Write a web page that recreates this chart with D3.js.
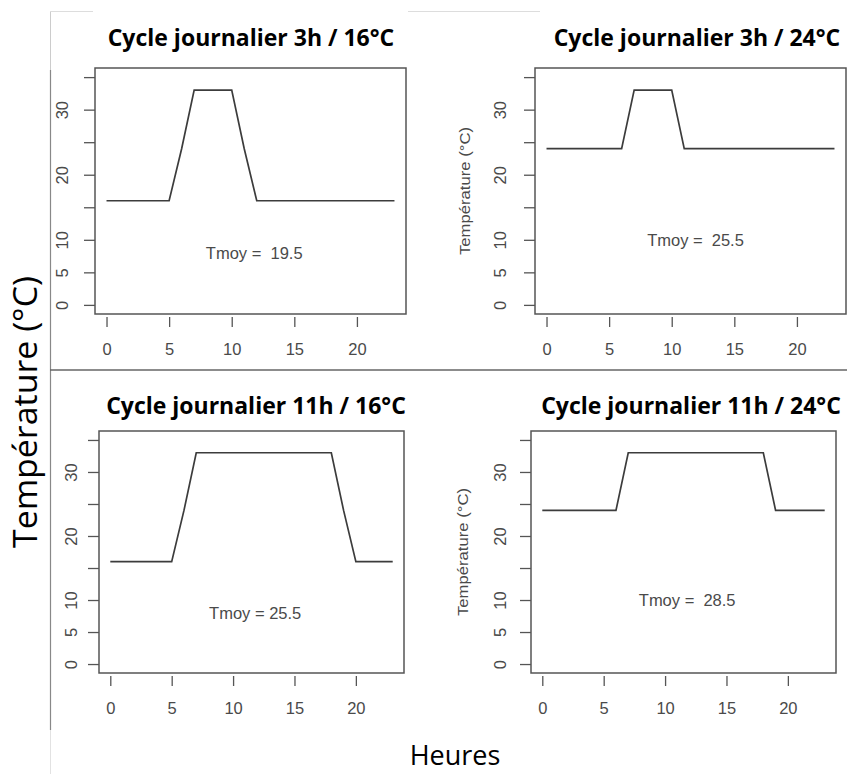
<!DOCTYPE html>
<html>
<head>
<meta charset="utf-8">
<script src="https://cdn.jsdelivr.net/npm/d3@7"></script>
<style>
  body { margin: 0; background: #fff; }
  .tick text { font-family: "Liberation Sans", Arial, sans-serif; font-size: 16.5px; fill: #4a4a4a; }
  .tick line { stroke: #555; stroke-width: 1.3; }
</style>
</head>
<body>
<svg id="chart" width="847" height="774"></svg>
<script>
// hourly temperature cycles (°C)
const hours = [0, 1, 2, 3, 4, 5, 6, 7, 8, 9, 10, 11, 12, 13, 14, 15, 16, 17, 18, 19, 20, 21, 22, 23];
const temp3h16 = [16, 16, 16, 16, 16, 16, 24, 33, 33, 33, 33, 24, 16, 16, 16, 16, 16, 16, 16, 16, 16, 16, 16, 16];
const temp3h24 = [24, 24, 24, 24, 24, 24, 24, 33, 33, 33, 33, 24, 24, 24, 24, 24, 24, 24, 24, 24, 24, 24, 24, 24];
const temp11h16 = [16, 16, 16, 16, 16, 16, 24, 33, 33, 33, 33, 33, 33, 33, 33, 33, 33, 33, 33, 24, 16, 16, 16, 16];
const temp11h24 = [24, 24, 24, 24, 24, 24, 24, 33, 33, 33, 33, 33, 33, 33, 33, 33, 33, 33, 33, 24, 24, 24, 24, 24];

const panelTitles = ["Cycle journalier 3h / 16°C", "Cycle journalier 3h / 24°C",
                     "Cycle journalier 11h / 16°C", "Cycle journalier 11h / 24°C"];
const tmoyLabels = ["Tmoy =  19.5", "Tmoy =  25.5", "Tmoy = 25.5", "Tmoy =  28.5"];
const tmoyAt = [[11.8, 8], [11.9, 10], [11.8, 8], [11.8, 10]];   // hour, °C
const xTickValues = [0, 5, 10, 15, 20];
const yTickValues = [0, 5, 10, 15, 20, 25, 30, 35];
const yTickLabels = ["0", "5", "10", "", "20", "", "30", ""];

// plot boxes, as laid out in the composed figure
const panels = [
    { left: 95,  right: 406, top: 68,  bottom: 314, titleX: 251, titleY: 46,  labelGap: 33, ylab: false },
    { left: 535, right: 846, top: 68,  bottom: 314, titleX: 697, titleY: 46,  labelGap: 35, ylab: true, ylabX: 465 },
    { left: 99,  right: 404, top: 431, bottom: 673, titleX: 256, titleY: 414, labelGap: 28, ylab: false },
    { left: 531, right: 836, top: 431, bottom: 673, titleX: 691, titleY: 414, labelGap: 31, ylab: true, ylabX: 463 }
];
const series = [temp3h16, temp3h24, temp11h16, temp11h24];

const svg = d3.select("#chart");

// frame lines of the composed figure
svg.append("line").attr("x1", 50.5).attr("x2", 93).attr("y1", 11.5).attr("y2", 11.5).attr("stroke", "#ddd");
svg.append("line").attr("x1", 408).attr("x2", 540).attr("y1", 11.5).attr("y2", 11.5).attr("stroke", "#ddd");
svg.append("line").attr("x1", 50.5).attr("x2", 50.5).attr("y1", 11.5).attr("y2", 70).attr("stroke", "#ccc");
svg.append("line").attr("x1", 50.5).attr("x2", 50.5).attr("y1", 70).attr("y2", 730).attr("stroke", "#888").attr("stroke-width", 1.2);
svg.append("line").attr("x1", 50.5).attr("x2", 50.5).attr("y1", 730).attr("y2", 774).attr("stroke", "#e2e2e2");
svg.append("line").attr("x1", 50).attr("x2", 847).attr("y1", 370).attr("y2", 370).attr("stroke", "#666").attr("stroke-width", 1.5);

panels.forEach((p, i) => {
    const x = d3.scaleLinear().domain([-0.92, 23.92]).range([p.left, p.right]);
    const y = d3.scaleLinear().domain([-1.4, 36.4]).range([p.bottom, p.top]);
    const g = svg.append("g");

    g.append("rect")
        .attr("x", p.left).attr("y", p.top)
        .attr("width", p.right - p.left).attr("height", p.bottom - p.top)
        .attr("fill", "none").attr("stroke", "#555").attr("stroke-width", 1.5);

    const line = d3.line()
        .x((d, j) => x(hours[j]))
        .y(d => y(d));

    g.append("path")
        .datum(series[i])
        .attr("d", line)
        .attr("fill", "none")
        .attr("stroke", "#3c3c3c")
        .attr("stroke-width", 1.7);

    const xAxis = g.append("g")
        .attr("transform", `translate(0,${p.bottom + 3})`)
        .call(d3.axisBottom(x).tickValues(xTickValues).tickSize(10).tickPadding(16));
    xAxis.select(".domain").remove();

    const yAxis = g.append("g")
        .attr("transform", `translate(${p.left},0)`)
        .call(d3.axisLeft(y).tickValues(yTickValues).tickSize(11)
            .tickFormat((d, k) => yTickLabels[k]));
    yAxis.select(".domain").remove();
    yAxis.selectAll("text")
        .attr("transform", "rotate(-90)")
        .attr("x", 0)
        .attr("y", -p.labelGap)
        .attr("dy", "0.35em")
        .attr("text-anchor", "middle");

    g.append("text")
        .attr("x", p.titleX).attr("y", p.titleY)
        .attr("text-anchor", "middle")
        .style("font-family", "'Open Sans', sans-serif")
        .style("font-weight", "bold")
        .style("font-size", "23px")
        .attr("fill", "#000")
        .text(panelTitles[i]);

    g.append("text")
        .attr("x", x(tmoyAt[i][0])).attr("y", y(tmoyAt[i][1]))
        .attr("dy", "0.35em")
        .attr("text-anchor", "middle")
        .style("white-space", "pre")
        .style("font-family", "'Liberation Sans', Arial, sans-serif")
        .style("font-size", "16.5px")
        .attr("fill", "#4a4a4a")
        .text(tmoyLabels[i]);

    if (p.ylab) {
        g.append("text")
            .attr("transform", `translate(${p.ylabX},${(p.top + p.bottom) / 2}) rotate(-90)`)
            .attr("dy", "0.35em")
            .attr("text-anchor", "middle")
            .style("font-family", "'Liberation Sans', Arial, sans-serif")
            .style("font-size", "15px")
            .attr("textLength", 128)
            .attr("lengthAdjust", "spacingAndGlyphs")
            .attr("fill", "#4a4a4a")
            .text("Température (°C)");
    }
});

// shared axis titles
svg.append("text")
    .attr("transform", "translate(37,412) rotate(-90)")
    .attr("text-anchor", "middle")
    .style("font-family", "'Open Sans', sans-serif")
    .style("font-size", "33px")
    .attr("textLength", 272)
    .attr("lengthAdjust", "spacingAndGlyphs")
    .attr("fill", "#000")
    .text("Température (°C)");

svg.append("text")
    .attr("x", 455).attr("y", 765)
    .attr("text-anchor", "middle")
    .style("font-family", "'Open Sans', sans-serif")
    .style("font-size", "27px")
    .attr("fill", "#000")
    .text("Heures");
</script>
</body>
</html>
